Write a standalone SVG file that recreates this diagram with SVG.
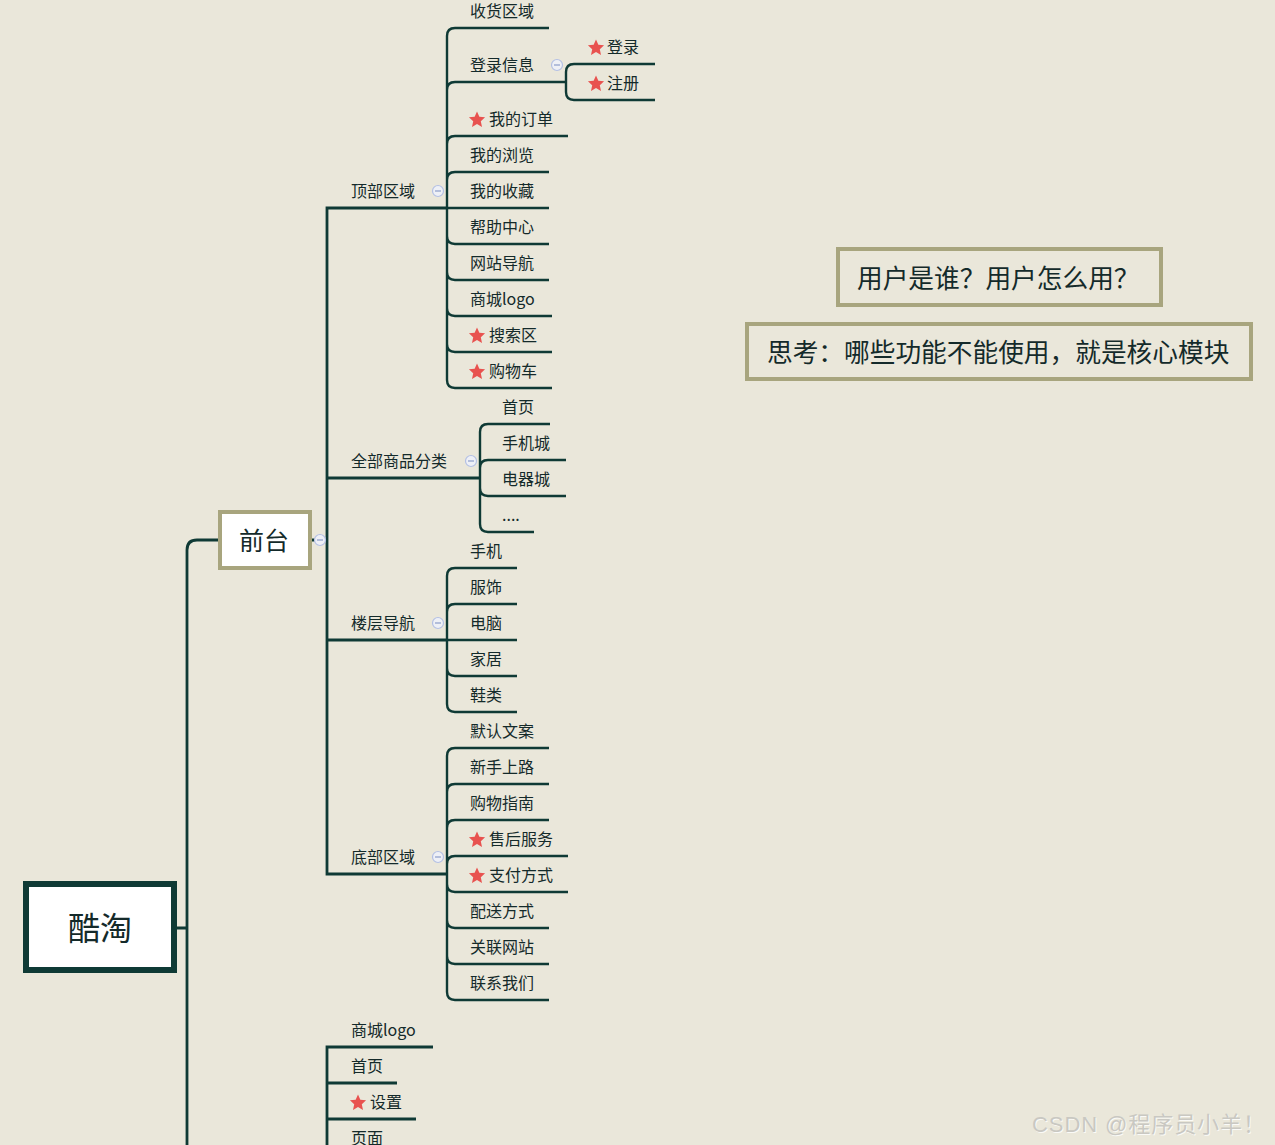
<svg xmlns="http://www.w3.org/2000/svg" width="1275" height="1145" viewBox="0 0 1275 1145">
<style>
.bg{fill:#EAE7DA}
.c{fill:none;stroke:#0F3A35;stroke-width:2.4;stroke-linecap:butt}
.c1{fill:none;stroke:#0F3A35;stroke-width:2.8}
.t{font-family:"Noto Sans CJK SC","Microsoft YaHei",sans-serif;font-size:16px;fill:#142A2A}
.big{font-family:"Noto Sans CJK SC",sans-serif;fill:#142A2A}
.note{fill:none;stroke:#A8A57E;stroke-width:4}
.star{fill:#E8524F}
.mc{fill:#EEF0F6;stroke:#B4C0E4;stroke-width:1.2}
.ml{stroke:#9AA8D0;stroke-width:1.4}
</style>
<defs>
<path id="star" class="star" d="M0,-8.5 L2.35,-3.24 L8.08,-2.63 L3.80,1.24 L5.00,6.88 L0,4 L-5.00,6.88 L-3.80,1.24 L-8.08,-2.63 L-2.35,-3.24 Z"/>
<g id="minus"><circle class="mc" r="5.5"/><line class="ml" x1="-3" y1="0" x2="3" y2="0"/></g>
</defs>
<rect class="bg" x="0" y="0" width="1275" height="1145"/>

<g id="connectors">
<path class="c1" d="M177,928 H187 M187,1145 V550 Q187,540 197,540 H218"/>
<path class="c1" d="M312,540 H327 M327,540 V208 H447 M327,540 V478 H480 M327,540 V874 H447 M327,640 H447"/>
<path class="c" d="M447,208 V36 Q447,28 455,28 H549 M447,208 V90 Q447,82 455,82 H566 M447,208 V144 Q447,136 455,136 H568 M447,208 V180 Q447,172 455,172 H549 M447,208 H549 M447,208 V236 Q447,244 455,244 H549 M447,208 V272 Q447,280 455,280 H549 M447,208 V308 Q447,316 455,316 H552 M447,208 V344 Q447,352 455,352 H552 M447,208 V380 Q447,388 455,388 H552"/>
<path class="c" d="M566,82 V72 Q566,64 574,64 H655 M566,82 V92 Q566,100 574,100 H655"/>
<path class="c" d="M480,478 V432 Q480,424 488,424 H550 M480,478 V468 Q480,460 488,460 H566 M480,478 V488 Q480,496 488,496 H566 M480,478 V524 Q480,532 488,532 H534"/>
<path class="c" d="M447,640 V576 Q447,568 455,568 H517 M447,640 V612 Q447,604 455,604 H517 M447,640 H517 M447,640 V668 Q447,676 455,676 H517 M447,640 V704 Q447,712 455,712 H517"/>
<path class="c" d="M447,874 V756 Q447,748 455,748 H549 M447,874 V792 Q447,784 455,784 H549 M447,874 V828 Q447,820 455,820 H549 M447,874 V864 Q447,856 455,856 H568 M447,874 V884 Q447,892 455,892 H568 M447,874 V920 Q447,928 455,928 H549 M447,874 V956 Q447,964 455,964 H549 M447,874 V992 Q447,1000 455,1000 H549"/>
<path class="c1" d="M327,1145 V1047 H433 M327,1083 H397 M327,1119 H416"/>
</g>

<g id="root"><rect x="26" y="884" width="148" height="86" fill="#FFFFFF" stroke="#0F3A35" stroke-width="6"/><text class="big" x="100" y="940" font-size="32" text-anchor="middle">酷淘</text></g>
<g id="qiantai"><rect x="220" y="512" width="90" height="56" fill="#FFFFFF" stroke="#A8A57E" stroke-width="4"/><text class="big" x="264" y="550" font-size="25" text-anchor="middle">前台</text><use href="#minus" x="320" y="540"/></g>

<g id="note1"><rect class="note" x="838" y="249" width="323" height="56"/><text class="big" x="857" y="288" font-size="25.7">用户是谁？用户怎么用？</text></g>
<g id="note2"><rect class="note" x="747" y="324" width="504" height="55"/><text class="big" x="767" y="362" font-size="25.7">思考：哪些功能不能使用，就是核心模块</text></g>

<g id="top-area"><text class="t" x="351" y="197">顶部区域</text><use href="#minus" x="438" y="191"/></g>
<g id="all-cat"><text class="t" x="351" y="467">全部商品分类</text><use href="#minus" x="471" y="461"/></g>
<g id="floor-nav"><text class="t" x="351" y="629">楼层导航</text><use href="#minus" x="438" y="623"/></g>
<g id="bottom-area"><text class="t" x="351" y="863">底部区域</text><use href="#minus" x="438" y="857"/></g>

<g id="n-shouhuo"><text class="t" x="470" y="17">收货区域</text></g>
<g id="n-denglu-info"><text class="t" x="470" y="71">登录信息</text><use href="#minus" x="557" y="65"/></g>
<g id="n-denglu"><use href="#star" x="596" y="48"/><text class="t" x="607" y="53">登录</text></g>
<g id="n-zhuce"><use href="#star" x="596" y="84"/><text class="t" x="607" y="89">注册</text></g>
<g id="n-order"><use href="#star" x="477" y="120"/><text class="t" x="489" y="125">我的订单</text></g>
<g id="n-browse"><text class="t" x="470" y="161">我的浏览</text></g>
<g id="n-fav"><text class="t" x="470" y="197">我的收藏</text></g>
<g id="n-help"><text class="t" x="470" y="233">帮助中心</text></g>
<g id="n-sitenav"><text class="t" x="470" y="269">网站导航</text></g>
<g id="n-logo"><text class="t" x="470" y="305">商城logo</text></g>
<g id="n-search"><use href="#star" x="477" y="336"/><text class="t" x="489" y="341">搜索区</text></g>
<g id="n-cart"><use href="#star" x="477" y="372"/><text class="t" x="489" y="377">购物车</text></g>

<g id="n-home"><text class="t" x="502" y="413">首页</text></g>
<g id="n-phonecity"><text class="t" x="502" y="449">手机城</text></g>
<g id="n-appliance"><text class="t" x="502" y="485">电器城</text></g>
<g id="n-more"><text class="t" x="502" y="521">....</text></g>

<g id="n-phone"><text class="t" x="470" y="557">手机</text></g>
<g id="n-cloth"><text class="t" x="470" y="593">服饰</text></g>
<g id="n-pc"><text class="t" x="470" y="629">电脑</text></g>
<g id="n-home2"><text class="t" x="470" y="665">家居</text></g>
<g id="n-shoe"><text class="t" x="470" y="701">鞋类</text></g>

<g id="n-default"><text class="t" x="470" y="737">默认文案</text></g>
<g id="n-newbie"><text class="t" x="470" y="773">新手上路</text></g>
<g id="n-guide"><text class="t" x="470" y="809">购物指南</text></g>
<g id="n-aftersale"><use href="#star" x="477" y="840"/><text class="t" x="489" y="845">售后服务</text></g>
<g id="n-pay"><use href="#star" x="477" y="876"/><text class="t" x="489" y="881">支付方式</text></g>
<g id="n-delivery"><text class="t" x="470" y="917">配送方式</text></g>
<g id="n-links"><text class="t" x="470" y="953">关联网站</text></g>
<g id="n-contact"><text class="t" x="470" y="989">联系我们</text></g>

<g id="b-logo"><text class="t" x="351" y="1036">商城logo</text></g>
<g id="b-home"><text class="t" x="351" y="1072">首页</text></g>
<g id="b-settings"><use href="#star" x="358" y="1103"/><text class="t" x="370" y="1108">设置</text></g>
<g id="b-page"><text class="t" x="351" y="1144">页面</text></g>

<g id="watermark"><text x="1033" y="1133" font-family="'Liberation Sans','Noto Sans CJK SC',sans-serif" font-size="22" textLength="233" fill="#FFFFFF" opacity="0.8">CSDN @程序员小羊！</text><text x="1032" y="1132" font-family="'Liberation Sans','Noto Sans CJK SC',sans-serif" font-size="22" textLength="233" fill="#C9C8C2">CSDN @程序员小羊！</text></g>
</svg>
